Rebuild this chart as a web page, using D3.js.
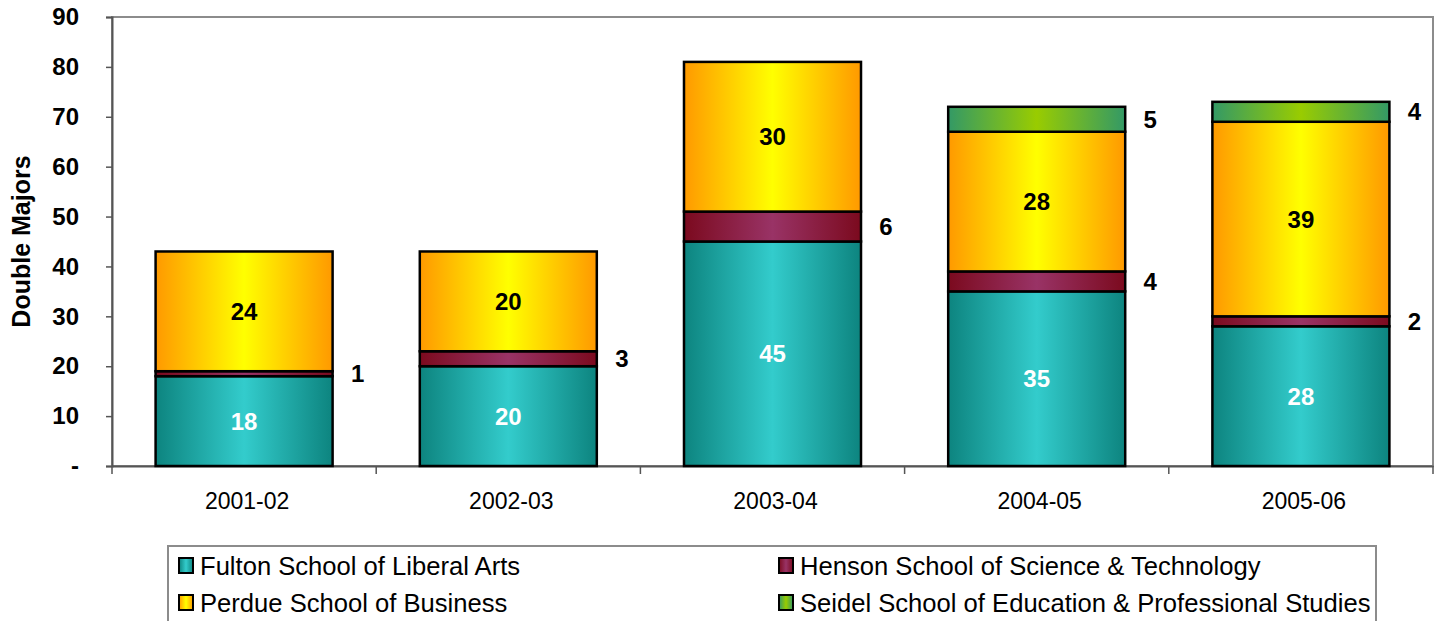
<!DOCTYPE html>
<html><head><meta charset="utf-8">
<script src="https://cdn.jsdelivr.net/npm/d3@7"></script>
<style>
body{margin:0;background:#fff;}
svg{display:block;font-family:"Liberation Sans",Arial,sans-serif;}
</style></head>
<body>
<svg id="chart" width="1442" height="621"></svg>
<script>
const years = ["2001-02","2002-03","2003-04","2004-05","2005-06"];
const fulton = [18,20,45,35,28];
const henson = [1,3,6,4,2];
const perdue = [24,20,30,28,39];
const seidel = [0,0,0,5,4];
const yTicks = [0,10,20,30,40,50,60,70,80,90];
const seriesNames = ["Fulton School of Liberal Arts","Henson School of Science & Technology","Perdue School of Business","Seidel School of Education & Professional Studies"];

const series = [
  {key:"fulton", name:seriesNames[0], values:fulton, edge:"#0d847f", mid:"#33cccc", label:"inside", labelColor:"#fff"},
  {key:"henson", name:seriesNames[1], values:henson, edge:"#7b0a1e", mid:"#993366", label:"right", labelColor:"#000"},
  {key:"perdue", name:seriesNames[2], values:perdue, edge:"#ff9900", mid:"#ffff00", label:"inside", labelColor:"#000"},
  {key:"seidel", name:seriesNames[3], values:seidel, edge:"#339966", mid:"#99cc00", label:"right", labelColor:"#000"}
];

const svg = d3.select("#chart");
const L=112, R=1433, T=17, B=466;
const FF = "'Liberation Sans',Arial,sans-serif";

const defs = svg.append("defs");
series.forEach(s=>{
  const g = defs.append("linearGradient").attr("id","g_"+s.key).attr("x1","0%").attr("x2","100%").attr("y1","0%").attr("y2","0%");
  g.append("stop").attr("offset","0%").attr("stop-color",s.edge);
  g.append("stop").attr("offset","50%").attr("stop-color",s.mid);
  g.append("stop").attr("offset","100%").attr("stop-color",s.edge);
});

const x = d3.scaleBand().domain(years).range([L,R]).paddingInner(0.33).paddingOuter(0.165);
const xb = d3.scaleBand().domain(years).range([L,R]);
const y = d3.scaleLinear().domain([0,90]).range([B,T]);

// plot frame
svg.append("rect").attr("x",L).attr("y",T).attr("width",R-L).attr("height",B-T)
  .attr("fill","none").attr("stroke","#8c8c8c").attr("stroke-width",2);

// y axis
const yAxis = d3.axisLeft(y).tickValues(yTicks).tickSize(6).tickPadding(27)
  .tickFormat(d=> d===0 ? "-" : d);
const ya = svg.append("g").attr("transform",`translate(${L},0)`).call(yAxis);
ya.select(".domain").attr("stroke","#555").attr("stroke-width",2);
ya.selectAll(".tick line").attr("stroke","#555").attr("stroke-width",1.5);
ya.selectAll(".tick text").attr("font-size",24).attr("font-weight","bold").attr("fill","#000")
  .attr("font-family",FF);

// x axis
const xa = svg.append("g").attr("transform",`translate(0,${B})`)
  .call(d3.axisBottom(xb).tickSize(0).tickPadding(27));
xa.select(".domain").attr("stroke","#555").attr("stroke-width",2);
xa.selectAll(".tick text").attr("font-size",23).attr("fill","#000").attr("font-family",FF)
  .attr("dx",3);
// category boundary ticks
const bounds = years.map(d=>xb(d)).concat([R]);
svg.append("g").selectAll("line").data(bounds).join("line")
  .attr("x1",d=>d).attr("x2",d=>d).attr("y1",B).attr("y2",B+8)
  .attr("stroke","#555").attr("stroke-width",1.5);

// y title
svg.append("text").attr("transform",`translate(30,${(T+B)/2 + 0}) rotate(-90)`)
  .attr("text-anchor","middle").attr("font-size",25).attr("font-weight","bold").text("Double Majors");

// stacked bars
const stackData = years.map((yr,i)=>{
  const o={year:yr}; series.forEach(s=>o[s.key]=s.values[i]); return o;
});
const stack = d3.stack().keys(series.map(s=>s.key))(stackData);

stack.forEach((layer,li)=>{
  const s = series[li];
  const g = svg.append("g");
  g.selectAll("rect").data(layer.filter(d=>d[1]-d[0]>0)).join("rect")
    .attr("x",d=>x(d.data.year)).attr("width",x.bandwidth())
    .attr("y",d=>y(d[1])).attr("height",d=>y(d[0])-y(d[1]))
    .attr("fill",`url(#g_${s.key})`).attr("stroke","#000").attr("stroke-width",2.5);
  g.selectAll("text").data(layer.filter(d=>d[1]-d[0]>0)).join("text")
    .attr("x",d=> s.label==="inside" ? x(d.data.year)+x.bandwidth()/2 : x(d.data.year)+x.bandwidth()+25)
    .attr("y",d=>y((d[0]+d[1])/2))
    .attr("dy","0.36em").attr("text-anchor","middle")
    .attr("font-size",24).attr("font-weight","bold").attr("fill",s.labelColor)
    .text(d=>d[1]-d[0]);
});

// legend
const lg = svg.append("g");
lg.append("rect").attr("x",168).attr("y",546).attr("width",1376-168).attr("height",90)
  .attr("fill","#fff").attr("stroke","#8c8c8c").attr("stroke-width",2);
const legPos = [[178,566],[778,566],[178,603],[778,603]];
series.forEach((s,i)=>{
  const [lx,ly]=legPos[i];
  lg.append("rect").attr("x",lx+1).attr("y",ly-8).attr("width",14).attr("height",15)
    .attr("fill",`url(#g_${s.key})`).attr("stroke","#000").attr("stroke-width",2);
  lg.append("text").attr("x",lx+22).attr("y",ly).attr("dy","0.36em")
    .attr("font-size",25.6).attr("fill","#000").text(s.name);
});
</script>
</body></html>
